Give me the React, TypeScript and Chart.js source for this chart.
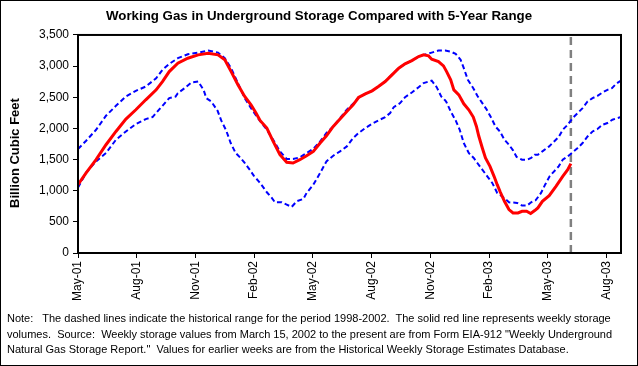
import React, { useEffect, useRef } from "react";
import { Chart, registerables } from "chart.js";

Chart.register(...registerables);

// x is measured in weeks from the start of May 2001
const tickWeeks = [0, 13, 26, 39, 52, 65, 78, 91, 104, 117];
const tickLabels = ["May-01", "Aug-01", "Nov-01", "Feb-02", "May-02", "Aug-02", "Nov-02", "Feb-03", "May-03", "Aug-03"];
const yTickValues = [0, 500, 1000, 1500, 2000, 2500, 3000, 3500];
const axisMaxWeek = 120.2;
const reportWeek = 109.1;

const storageWeeks = [0, 1.8, 4.0, 6.2, 8.4, 10.6, 12.8, 15.0, 17.3, 18.7, 20.2, 22.1, 24.3, 26.6, 28.8, 31.0, 32.5, 33.9, 35.4, 36.9, 38.3, 39.4, 40.3, 41.8, 43.2, 44.7, 46.2, 47.6, 49.1, 50.6, 52.1, 53.6, 55.0, 56.5, 58.0, 59.5, 60.9, 62.1, 63.6, 65.1, 66.5, 68.0, 69.5, 71.0, 72.4, 73.9, 75.4, 76.5, 77.6, 78.3, 79.8, 80.9, 81.6, 82.5, 83.2, 84.3, 85.4, 86.5, 87.5, 88.2, 88.7, 89.5, 90.2, 91.2, 92.1, 92.8, 93.5, 94.4, 95.4, 96.3, 97.4, 98.3, 99.3, 100.2, 101.1, 101.8, 102.8, 104.3, 105.8, 107.3, 108.4, 109.1];
const storageValues = [1097, 1285, 1498, 1738, 1951, 2150, 2299, 2459, 2619, 2752, 2912, 3047, 3127, 3180, 3207, 3180, 3100, 2912, 2700, 2512, 2379, 2246, 2127, 2005, 1791, 1578, 1455, 1445, 1498, 1562, 1631, 1765, 1882, 2031, 2150, 2272, 2379, 2496, 2555, 2603, 2672, 2752, 2860, 2967, 3036, 3089, 3153, 3180, 3164, 3111, 3073, 3004, 2912, 2779, 2619, 2539, 2395, 2299, 2182, 2031, 1882, 1685, 1525, 1391, 1231, 1097, 975, 830, 697, 644, 644, 670, 670, 633, 681, 724, 830, 921, 1070, 1231, 1338, 1434];

const upperWeeks = [0, 1.8, 4.0, 6.2, 8.4, 10.6, 12.8, 15.0, 17.3, 18.7, 20.2, 22.1, 24.3, 26.6, 28.8, 31.0, 32.5, 33.9, 35.4, 36.9, 38.3, 39.8, 41.8, 43.2, 44.7, 46.2, 47.6, 49.1, 50.6, 52.1, 53.6, 55.0, 56.5, 58.0, 59.5, 60.9, 62.1, 63.6, 65.1, 66.5, 68.0, 69.5, 71.0, 72.4, 73.9, 75.4, 76.5, 78.3, 79.8, 81.3, 82.5, 83.6, 84.7, 85.4, 86.3, 87.5, 88.4, 89.5, 90.4, 91.5, 92.4, 93.4, 94.4, 95.4, 96.3, 97.1, 98.3, 99.4, 100.3, 101.1, 101.8, 102.8, 104.3, 105.4, 106.4, 107.3, 108.4, 109.5, 110.6, 111.7, 112.8, 113.9, 115.0, 116.1, 117.2, 118.2, 119.1, 120.2];
const upperValues = [1669, 1802, 1978, 2203, 2363, 2512, 2603, 2672, 2806, 2940, 3036, 3127, 3191, 3217, 3249, 3217, 3127, 2967, 2727, 2486, 2326, 2166, 1978, 1818, 1631, 1509, 1509, 1535, 1605, 1674, 1791, 1926, 2031, 2166, 2299, 2395, 2496, 2555, 2603, 2672, 2752, 2860, 2967, 3036, 3089, 3153, 3180, 3217, 3249, 3249, 3233, 3196, 3100, 2967, 2779, 2646, 2523, 2406, 2310, 2166, 2031, 1951, 1818, 1738, 1647, 1541, 1498, 1498, 1525, 1578, 1578, 1631, 1711, 1791, 1861, 1978, 2059, 2166, 2246, 2326, 2432, 2486, 2523, 2576, 2619, 2646, 2715, 2768];

const lowerWeeks = [0, 1.8, 4.0, 6.2, 8.4, 10.6, 12.8, 15.0, 16.5, 18.7, 20.2, 21.6, 22.1, 23.6, 25.1, 26.6, 27.8, 28.4, 29.5, 30.9, 31.7, 32.8, 33.8, 34.9, 36.0, 36.9, 38.0, 38.9, 40.0, 40.3, 41.8, 42.9, 43.6, 45.1, 46.2, 47.3, 48.4, 49.9, 50.6, 52.1, 53.6, 55.0, 56.5, 58.0, 59.5, 60.9, 62.1, 63.6, 65.1, 66.5, 68.0, 69.1, 69.9, 71.3, 72.4, 73.9, 75.4, 76.5, 77.6, 78.3, 79.4, 80.4, 81.3, 81.6, 82.5, 83.6, 84.5, 85.4, 86.5, 87.6, 88.4, 89.5, 90.6, 91.7, 92.8, 93.9, 95.4, 97.2, 98.3, 99.4, 100.3, 101.3, 102.5, 103.4, 104.4, 105.4, 106.4, 107.3, 108.4, 109.5, 110.6, 111.7, 112.8, 113.9, 115.0, 116.1, 117.2, 118.3, 119.4, 120.2];
const lowerValues = [1050, 1290, 1471, 1605, 1818, 1951, 2070, 2150, 2182, 2363, 2486, 2512, 2566, 2646, 2736, 2752, 2619, 2486, 2432, 2283, 2128, 1967, 1765, 1605, 1525, 1445, 1338, 1242, 1150, 1125, 975, 884, 814, 814, 777, 740, 830, 868, 964, 1097, 1285, 1471, 1562, 1631, 1711, 1845, 1926, 2005, 2075, 2128, 2182, 2246, 2342, 2406, 2502, 2576, 2662, 2727, 2752, 2768, 2662, 2512, 2448, 2416, 2272, 2128, 1978, 1765, 1605, 1525, 1445, 1338, 1231, 1125, 964, 910, 814, 804, 761, 761, 814, 846, 964, 1097, 1231, 1311, 1391, 1498, 1551, 1615, 1685, 1765, 1871, 1951, 1990, 2059, 2086, 2139, 2166, 2182];

const titleText = "Working Gas in Underground Storage Compared with 5-Year Range";
const yTitleText = "Billion Cubic Feet";
const noteLines = [
  "Note:   The dashed lines indicate the historical range for the period 1998-2002.  The solid red line represents weekly storage",
  "volumes.  Source:  Weekly storage values from March 15, 2002 to the present are from Form EIA-912 \"Weekly Underground",
  "Natural Gas Storage Report.\"  Values for earlier weeks are from the Historical Weekly Storage Estimates Database.",
];

const FONT = "'Liberation Sans', Arial, sans-serif";

const toPoints = (xs: number[], ys: number[]) => xs.map((x, i) => ({ x, y: ys[i] }));

const framePlugin = {
  id: "frame",
  afterDatasetsDraw(chart: any) {
    const { ctx, chartArea } = chart;
    const { left, top, right, bottom } = chartArea;
    ctx.save();
    ctx.strokeStyle = "#000";
    ctx.lineWidth = 2;
    ctx.strokeRect(left, top, right - left, bottom - top);
    ctx.restore();
  },
};

export default function App() {
  const ref = useRef<HTMLCanvasElement | null>(null);

  useEffect(() => {
    document.body.style.margin = "0";
    const canvas = ref.current;
    if (!canvas) return;
    const chart = new Chart(canvas, {
      type: "line",
      data: {
        datasets: [
          {
            label: "Weekly storage",
            data: toPoints(storageWeeks, storageValues),
            borderColor: "#FF0000",
            borderWidth: 3,
            pointRadius: 0,
            tension: 0,
          },
          {
            label: "5-year maximum",
            data: toPoints(upperWeeks, upperValues),
            borderColor: "#0000FF",
            borderWidth: 2,
            borderDash: [5, 3],
            pointRadius: 0,
            tension: 0,
          },
          {
            label: "5-year minimum",
            data: toPoints(lowerWeeks, lowerValues),
            borderColor: "#0000FF",
            borderWidth: 2,
            borderDash: [5, 3],
            pointRadius: 0,
            tension: 0,
          },
          {
            label: "Latest report",
            data: [
              { x: reportWeek, y: 0 },
              { x: reportWeek, y: 3500 },
            ],
            borderColor: "#808080",
            borderWidth: 2.5,
            borderDash: [8, 5],
            pointRadius: 0,
            tension: 0,
          },
        ],
      },
      options: {
        animation: false,
        responsive: false,
        maintainAspectRatio: false,
        layout: { padding: { top: 0, left: 0, right: 0, bottom: 63 } },
        plugins: {
          legend: { display: false },
          tooltip: { enabled: false },
          title: {
            display: true,
            text: titleText,
            color: "#000",
            font: { family: FONT, size: 13.3, weight: "bold" },
            padding: { top: 8, bottom: 11 },
          },
        },
        scales: {
          x: {
            type: "linear",
            min: 0,
            max: axisMaxWeek,
            afterBuildTicks: (s: any) => {
              s.ticks = tickWeeks.map((v) => ({ value: v }));
            },
            afterFit: (s: any) => {
              s.height = 50;
            },
            ticks: {
              autoSkip: false,
              maxRotation: 90,
              minRotation: 90,
              padding: 3,
              color: "#000",
              font: { family: FONT, size: 12 },
              callback: (v: any) => {
                const i = tickWeeks.indexOf(Number(v));
                return i >= 0 ? tickLabels[i] : "";
              },
            },
            grid: { display: true, drawOnChartArea: false, drawTicks: true, tickLength: 5, color: "#000", lineWidth: 1 },
            border: { display: true, color: "#000", width: 2 },
          },
          y: {
            min: 0,
            max: 3500,
            afterBuildTicks: (s: any) => {
              s.ticks = yTickValues.map((v) => ({ value: v }));
            },
            afterFit: (s: any) => {
              s.width = 78;
            },
            ticks: {
              padding: 4,
              color: "#000",
              font: { family: FONT, size: 12 },
              callback: (v: any) => Number(v).toLocaleString("en-US"),
            },
            title: {
              display: true,
              text: yTitleText + "     ",
              color: "#000",
              font: { family: FONT, size: 13, weight: "bold" },
              padding: { top: 7.2, bottom: 0 },
            },
            grid: { display: true, drawOnChartArea: false, drawTicks: true, tickLength: 5, color: "#000", lineWidth: 1 },
            border: { display: true, color: "#000", width: 2 },
          },
          rightGap: {
            type: "linear",
            position: "right",
            display: true,
            min: 0,
            max: 1,
            afterFit: (s: any) => {
              s.width = 17;
            },
            ticks: { display: false },
            grid: { display: false, drawOnChartArea: false, drawTicks: false },
            border: { display: false },
          },
        },
      },
      plugins: [framePlugin],
    } as any);
    return () => chart.destroy();
  }, []);

  return (
    <div style={{ position: "relative", width: 638, height: 366, background: "#fff", overflow: "hidden" }}>
      <canvas ref={ref} width={638} height={366} style={{ position: "absolute", left: 0, top: 0, width: 638, height: 366 }} />
      <div style={{ position: "absolute", left: 7, top: 311, fontFamily: FONT, fontSize: 11, lineHeight: "15.5px", color: "#000", whiteSpace: "pre" }}>
        {noteLines.map((l, i) => (
          <div key={i}>{l}</div>
        ))}
      </div>
      <div style={{ position: "absolute", left: 0, top: 0, width: 638, height: 366, boxSizing: "border-box", border: "1px solid #000", pointerEvents: "none" }} />
    </div>
  );
}
